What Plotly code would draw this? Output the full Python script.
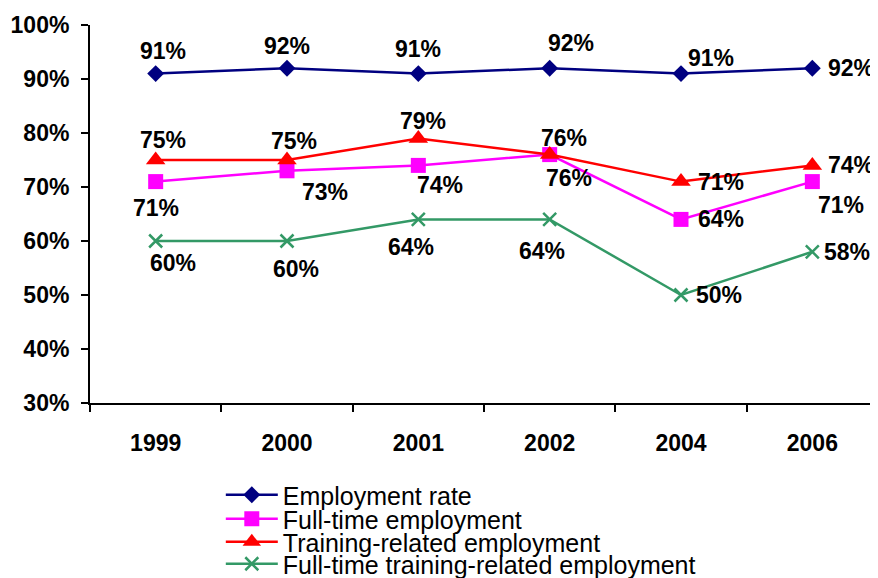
import plotly.graph_objects as go

years = ["1999", "2000", "2001", "2002", "2004", "2006"]
employment_rate = [91, 92, 91, 92, 91, 92]
full_time = [71, 73, 74, 76, 64, 71]
training_related = [75, 75, 79, 76, 71, 74]
full_time_training = [60, 60, 64, 64, 50, 58]
series_names = ["Employment rate", "Full-time employment",
                "Training-related employment", "Full-time training-related employment"]
y_ticks = [30, 40, 50, 60, 70, 80, 90, 100]
y_tick_labels = [f"{v}%" for v in y_ticks]

# styles
colors = ["#000080", "#FF00FF", "#FF0000", "#339966"]
symbols = ["diamond", "square", "triangle-up", "x-thin-open"]
msizes = [13, 15, 17, 13]
# label offsets (dx, dy in px, dy positive = down)
offsets = [
    [(7, -23), (0, -22), (0, -25), (21, -25), (30, -16), (39, 0)],
    [(0, 26), (38, 21), (22, 20), (19, 23), (40, 0), (29, 23)],
    [(7, -20), (7, -19), (5, -17), (14, -17), (40, 0), (39, 0)],
    [(17, 22), (9, 28), (-7, 28), (-8, 32), (38, 0), (35, 0)],
]

all_series = [employment_rate, full_time, training_related, full_time_training]
FONT = "Liberation Sans, Arial, sans-serif"

fig = go.Figure()
legend_ids = ["legend", "legend2", "legend3", "legend4"]
for i, (name, vals) in enumerate(zip(series_names, all_series)):
    fig.add_trace(go.Scatter(
        x=years, y=vals, name=name, mode="lines+markers",
        line=dict(color=colors[i], width=2.5),
        marker=dict(symbol=symbols[i], size=msizes[i], color=colors[i],
                    line=dict(color=colors[i], width=2.5 if i == 3 else 0)),
        legend=legend_ids[i], showlegend=True,
    ))
    for j, v in enumerate(vals):
        dx, dy = offsets[i][j]
        fig.add_annotation(x=j, y=v, xref="x", yref="y", text=f"{v}%", showarrow=False,
                           xshift=dx, yshift=-dy,
                           font=dict(family=FONT, size=23, color="black", weight="bold"))

# page is drawn with an 8px body offset; figure coords = window coords - 8
legend_rows_px = [487, 511, 534, 556]
H_top, H_bot = 17, 395
leg_common = dict(x=0.166, xanchor="left", yanchor="middle",
                  font=dict(family=FONT, size=25, color="black"),
                  bgcolor="rgba(0,0,0,0)", borderwidth=0, itemwidth=52)
layout_legends = {}
for k, lid in enumerate(legend_ids):
    ypaper = (H_bot - legend_rows_px[k]) / (H_bot - H_top)
    layout_legends[lid] = dict(leg_common, y=ypaper)

fig.update_layout(
    width=870, height=570,
    margin=dict(l=82, r=0, t=17, b=175, autoexpand=False),
    paper_bgcolor="white", plot_bgcolor="white",
    showlegend=True,
    **layout_legends,
    xaxis=dict(type="category", tickson="boundaries", ticks="outside", ticklen=7,
               tickwidth=2, tickcolor="black", showline=True, linewidth=2,
               linecolor="black", showgrid=False, range=[-0.5, 5.5],
               tickfont=dict(family=FONT, size=23, color="black", weight="bold"),
               ticklabelstandoff=18, automargin=False),
    yaxis=dict(range=[30, 100], tickmode="array", tickvals=y_ticks, ticktext=y_tick_labels,
               ticks="outside", ticklen=7, tickwidth=2, tickcolor="black",
               showline=True, linewidth=2, linecolor="black", showgrid=False,
               zeroline=False, automargin=False,
               tickfont=dict(family=FONT, size=23, color="black", weight="bold"),
               ticklabelstandoff=7),
)

fig.write_html("out.html")
